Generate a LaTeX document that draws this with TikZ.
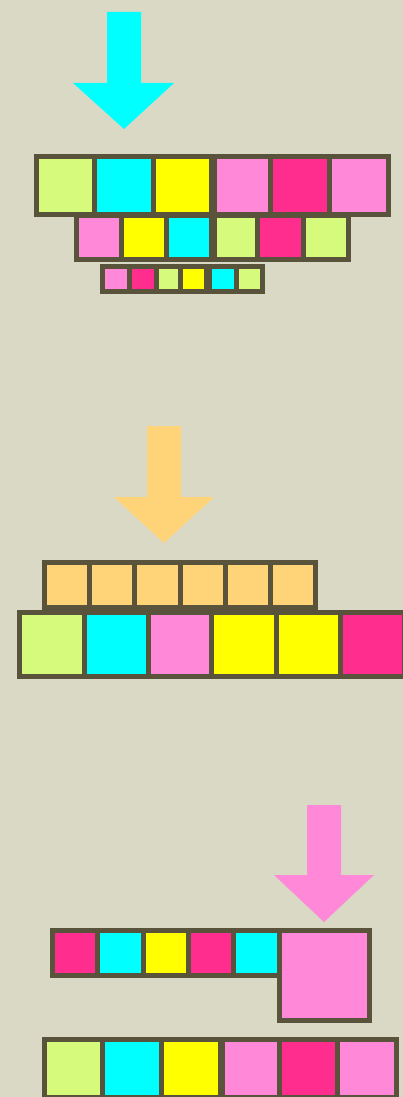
\documentclass[tikz,border=0pt]{standalone}
\usepackage{tikz}
\definecolor{bg}{HTML}{DAD9C5}
\definecolor{edge}{HTML}{58533A}
\definecolor{lime}{HTML}{D6FA7C}
\definecolor{cyanc}{HTML}{00FFFF}
\definecolor{yel}{HTML}{FFFF00}
\definecolor{pinkc}{HTML}{FF88D8}
\definecolor{mag}{HTML}{FF2D8E}
\definecolor{orng}{HTML}{FFD479}
\tikzset{
  tilebox/.style={draw=edge, line width=5pt, line join=miter},
  bigarrow/.style={draw=none}
}
\newcommand\mytile[5]{\path[tilebox, fill=#5] (#1,#2) rectangle (#3,#4);}
\begin{document}
\begin{tikzpicture}[x=1pt,y=-1pt]
\useasboundingbox (0,0) rectangle (403,1097);
\clip (0,0) rectangle (403,1097);
\fill[bg] (0,0) rectangle (403,1097);
% cyan arrow
\fill[bigarrow, cyanc] (107,12) -- (141,12) -- (141,83) -- (174,83) -- (124,129) -- (73,83) -- (107,83) -- cycle;
% row 1
\mytile{36.5}{156.5}{94.5}{214.5}{lime}
\mytile{94.5}{156.5}{153.5}{214.5}{cyanc}
\mytile{153.5}{156.5}{211.5}{214.5}{yel}
\mytile{214.5}{156.5}{270.5}{214.5}{pinkc}
\mytile{270.5}{156.5}{329.5}{214.5}{mag}
\mytile{329.5}{156.5}{388.5}{214.5}{pinkc}
% row 2
\mytile{76.5}{215.5}{121.5}{259.5}{pinkc}
\mytile{121.5}{215.5}{166}{259.5}{yel}
\mytile{166}{215.5}{211.5}{259.5}{cyanc}
\mytile{214.5}{215.5}{257.5}{259.5}{lime}
\mytile{257.5}{215.5}{303}{259.5}{mag}
\mytile{303}{215.5}{348.5}{259.5}{lime}
% row 3
\mytile{102.5}{266.5}{129.5}{291.5}{pinkc}
\mytile{129.5}{266.5}{156}{291.5}{mag}
\mytile{156}{266.5}{180}{291.5}{lime}
\mytile{180}{266.5}{206.5}{291.5}{yel}
\mytile{209.5}{266.5}{236}{291.5}{cyanc}
\mytile{236}{266.5}{262.5}{291.5}{lime}
% orange arrow
\fill[bigarrow, orng] (147,426) -- (181,426) -- (181,497) -- (214,497) -- (164,543) -- (114,497) -- (147,497) -- cycle;
% orange row
\mytile{44.5}{562.5}{89.5}{607.5}{orng}
\mytile{89.5}{562.5}{134.7}{607.5}{orng}
\mytile{134.7}{562.5}{180}{607.5}{orng}
\mytile{180}{562.5}{225.3}{607.5}{orng}
\mytile{225.3}{562.5}{270.5}{607.5}{orng}
\mytile{270.5}{562.5}{315.5}{607.5}{orng}
% row B
\mytile{19.5}{612.5}{84.5}{676.5}{lime}
\mytile{84.5}{612.5}{148}{676.5}{cyanc}
\mytile{148}{612.5}{211.5}{676.5}{pinkc}
\mytile{211.5}{612.5}{276}{676.5}{yel}
\mytile{276}{612.5}{340}{676.5}{yel}
\mytile{340}{612.5}{404.5}{676.5}{mag}
% pink arrow
\fill[bigarrow, pinkc] (307,805) -- (341,805) -- (341,875) -- (374,875) -- (324,922) -- (274,875) -- (307,875) -- cycle;
% row C
\mytile{52.5}{930.5}{97.5}{975.5}{mag}
\mytile{97.5}{930.5}{143}{975.5}{cyanc}
\mytile{143}{930.5}{188}{975.5}{yel}
\mytile{188}{930.5}{233.5}{975.5}{mag}
\mytile{233.5}{930.5}{279.5}{975.5}{cyanc}
\mytile{279.5}{930.5}{369.5}{1020.5}{pinkc}
% row D
\mytile{44.5}{1039.5}{102.5}{1097.5}{lime}
\mytile{102.5}{1039.5}{161.5}{1097.5}{cyanc}
\mytile{161.5}{1039.5}{220.5}{1097.5}{yel}
\mytile{222.5}{1039.5}{279}{1097.5}{pinkc}
\mytile{279}{1039.5}{337.5}{1097.5}{mag}
\mytile{337.5}{1039.5}{396.5}{1097.5}{pinkc}
\end{tikzpicture}
\end{document}
